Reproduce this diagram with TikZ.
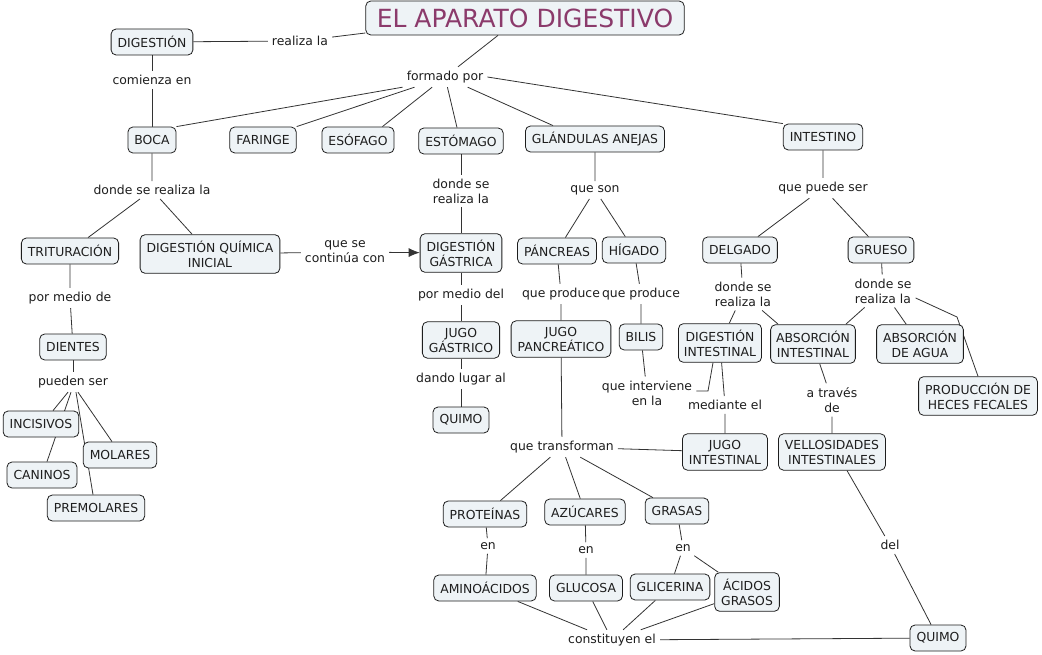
\documentclass[tikz,border=0pt]{standalone}
\usepackage{fontspec}
\setmainfont{DejaVu Sans}
\usetikzlibrary{arrows.meta}
\pgfdeclarelayer{bg}
\pgfsetlayers{bg,main}
\definecolor{boxfill}{HTML}{EEF3F6}
\definecolor{titlecol}{HTML}{8B3A6B}
\definecolor{linecol}{HTML}{333333}
\definecolor{txtcol}{HTML}{1E1E1E}
\tikzset{
  concept/.style={draw=txtcol, line width=0.8pt, rounded corners=5pt, fill=boxfill,
    font=\fontsize{12.4}{15}\selectfont, text=txtcol, align=center,
    inner xsep=6.5pt, inner ysep=6pt, minimum height=26pt},
  lbl/.style={font=\fontsize{12.4}{15}\selectfont, text=txtcol, align=center,
    inner xsep=4pt, inner ysep=4pt},
  conn/.style={draw=linecol, line width=0.8pt},
}
\begin{document}
\begin{tikzpicture}[x=1pt,y=-1pt]
\useasboundingbox (0,0) rectangle (1042,655);
% concepts
\node[concept, font=\fontsize{25}{28}\selectfont, text=titlecol, inner xsep=11pt, minimum height=34pt] (title) at (525,18) {EL APARATO DIGESTIVO};
\node[concept] (dig) at (152,42) {DIGESTIÓN};
\node[concept] (boca) at (152,140) {BOCA};
\node[concept] (faringe) at (263,140) {FARINGE};
\node[concept] (esofago) at (358,140) {ESÓFAGO};
\node[concept] (estomago) at (461,141) {ESTÓMAGO};
\node[concept] (glandulas) at (595,139) {GLÁNDULAS ANEJAS};
\node[concept] (intestino) at (823,137) {INTESTINO};
\node[concept] (trit) at (70,251) {TRITURACIÓN};
\node[concept] (dqi) at (210,254) {DIGESTIÓN QUÍMICA\\INICIAL};
\node[concept] (dgas) at (461,253) {DIGESTIÓN\\GÁSTRICA};
\node[concept] (dientes) at (73,347) {DIENTES};
\node[concept] (incisivos) at (41,424) {INCISIVOS};
\node[concept] (caninos) at (42,475) {CANINOS};
\node[concept] (molares) at (120,455) {MOLARES};
\node[concept] (premolares) at (96,508) {PREMOLARES};
\node[concept] (jgas) at (461,340) {JUGO\\GÁSTRICO};
\node[concept] (quimoa) at (461,420) {QUIMO};
\node[concept] (pancreas) at (557,251) {PÁNCREAS};
\node[concept] (higado) at (634,250) {HÍGADO};
\node[concept] (jpan) at (561,339) {JUGO\\PANCREÁTICO};
\node[concept] (bilis) at (641,337) {BILIS};
\node[concept] (delgado) at (740,250) {DELGADO};
\node[concept] (grueso) at (881,250) {GRUESO};
\node[concept, inner xsep=5.5pt] (digint) at (720,343) {DIGESTIÓN\\INTESTINAL};
\node[concept, inner xsep=5.5pt] (absint) at (813,344) {ABSORCIÓN\\INTESTINAL};
\node[concept] (absagua) at (920,344) {ABSORCIÓN\\DE AGUA};
\node[concept] (heces) at (978,396) {PRODUCCIÓN DE\\HECES FECALES};
\node[concept] (jint) at (725,452) {JUGO\\INTESTINAL};
\node[concept] (vell) at (832,452) {VELLOSIDADES\\INTESTINALES};
\node[concept] (proteinas) at (485,514) {PROTEÍNAS};
\node[concept] (azucares) at (585,512) {AZÚCARES};
\node[concept] (grasas) at (677,511) {GRASAS};
\node[concept] (amino) at (485,588) {AMINOÁCIDOS};
\node[concept] (glucosa) at (586,588) {GLUCOSA};
\node[concept] (glicerina) at (670,587) {GLICERINA};
\node[concept] (acidos) at (747,592) {ÁCIDOS\\GRASOS};
\node[concept] (quimob) at (938,638) {QUIMO};
% labels
\node[lbl] (lrealiza) at (300,41) {realiza la};
\node[lbl] (lcomienza) at (152,80) {comienza en};
\node[lbl] (lformado) at (445,77) {formado por};
\node[lbl] (lbocadonde) at (152,190) {donde se realiza la};
\node[lbl] (lcontinua) at (345,252) {que se\\continúa con};
\node[lbl] (lestdonde) at (461,191) {donde se\\realiza la};
\node[lbl] (lpormediode) at (70,298) {por medio de};
\node[lbl] (lpueden) at (73,382) {pueden ser};
\node[lbl] (lpormediodel) at (461,295) {por medio del};
\node[lbl] (ldando) at (461,379) {dando lugar al};
\node[lbl] (lqueson) at (595,190) {que son};
\node[lbl] (lproda) at (561,294) {que produce};
\node[lbl] (lprodb) at (641,294) {que produce};
\node[lbl] (linterv) at (647,393) {que interviene\\en la};
\node[lbl] (lpuede) at (823,188) {que puede ser};
\node[lbl] (ldelgdonde) at (743,294) {donde se\\realiza la};
\node[lbl] (lgruedonde) at (883,291) {donde se\\realiza la};
\node[lbl] (latraves) at (832,400) {a través\\de};
\node[lbl] (lmediante) at (725,405) {mediante el};
\node[lbl] (ltransf) at (562,447) {que transforman};
\node[lbl] (lena) at (488,546) {en};
\node[lbl] (lenb) at (586,550) {en};
\node[lbl] (lenc) at (683,548) {en};
\node[lbl] (lconst) at (612,640) {constituyen el};
\node[lbl] (ldel) at (890,545) {del};
\coordinate (benda) at (708,391);
\coordinate (bendb) at (957,317);
% connectors
\begin{pgfonlayer}{bg}
\fill[white] (0,0) rectangle (1042,655);
\draw[conn] (dig) -- (lrealiza) -- (title.west |- 0,33);
\draw[conn] ([xshift=-27pt]title.south) -- (lformado);
\draw[conn] (lformado.south west) -- (boca.north east);
\draw[conn] (lformado) -- (faringe.north east);
\draw[conn] (lformado) -- ([xshift=-12pt]esofago.north east);
\draw[conn] (lformado) -- ([xshift=-4pt]estomago.north);
\draw[conn] (lformado) -- ([xshift=-42pt]glandulas.north);
\draw[conn] (lformado.east) -- (intestino.north west);
\draw[conn] (dig) -- (lcomienza) -- (boca);
\draw[conn] (boca) -- (lbocadonde) -- (trit);
\draw[conn] (lbocadonde) -- (dqi);
\draw[conn, -{Latex[length=11pt,width=9pt]}] (dqi) -- (lcontinua) -- (dgas);
\draw[conn] (estomago) -- (lestdonde) -- (dgas);
\draw[conn] (dgas) -- (lpormediodel) -- (jgas);
\draw[conn] (jgas) -- (ldando) -- (quimoa);
\draw[conn] (trit) -- (lpormediode) -- (dientes);
\draw[conn] (dientes) -- (lpueden);
\draw[conn] ([xshift=-5pt]lpueden.south) -- ([xshift=12pt]incisivos.north);
\draw[conn] ([xshift=-2pt]lpueden.south) -- ([xshift=5pt]caninos.north);
\draw[conn] ([xshift=3pt]lpueden.south) -- ([xshift=-3pt]premolares.north);
\draw[conn] ([xshift=5pt]lpueden.south) -- ([xshift=-8pt]molares.north);
\draw[conn] (glandulas) -- (lqueson) -- (pancreas);
\draw[conn] (lqueson) -- (higado);
\draw[conn] (pancreas) -- (lproda) -- (jpan);
\draw[conn] (higado) -- (lprodb) -- (bilis);
\draw[conn] (bilis) -- (linterv);
\draw[conn] ([yshift=2pt]linterv.east) -- (benda) -- ([xshift=-7pt]digint.south);
\draw[conn] (jpan) -- (ltransf);
\draw[conn] (jint) -- (ltransf);
\draw[conn] (ltransf) -- (proteinas);
\draw[conn] (ltransf) -- (azucares);
\draw[conn] (ltransf) -- (grasas);
\draw[conn] (proteinas) -- (lena) -- (amino);
\draw[conn] (azucares) -- (lenb) -- (glucosa);
\draw[conn] (grasas) -- (lenc) -- (glicerina);
\draw[conn] (lenc) -- (acidos);
\draw[conn] (amino) -- (lconst);
\draw[conn] (glucosa) -- (lconst);
\draw[conn] (glicerina) -- (lconst);
\draw[conn] (acidos) -- (lconst);
\draw[conn] (lconst) -- (quimob);
\draw[conn] (intestino) -- (lpuede) -- (delgado);
\draw[conn] (lpuede) -- (grueso);
\draw[conn] (delgado) -- (ldelgdonde) -- (digint);
\draw[conn] (ldelgdonde) -- ([xshift=8pt]absint.north west);
\draw[conn] (grueso) -- (lgruedonde) -- ([xshift=-10pt]absint.north east);
\draw[conn] (lgruedonde) -- (absagua);
\draw[conn] ([yshift=-7pt]lgruedonde.east) -- (bendb) -- (heces.north);
\draw[conn] (digint) -- (lmediante) -- (jint);
\draw[conn] (absint) -- (latraves) -- (vell);
\draw[conn] ([xshift=15pt]vell.south) -- (ldel) -- (quimob);
\end{pgfonlayer}
\end{tikzpicture}
\end{document}
